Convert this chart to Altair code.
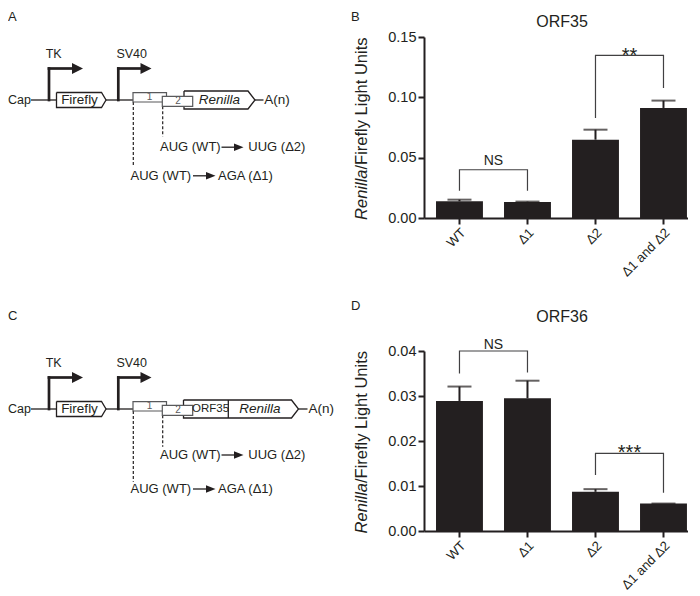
import altair as alt
import pandas as pd

BLACK = "#231f20"
GRAY = "#58595b"
FONT = "Liberation Sans"

# ---------------- bar chart data ----------------
cats = ["WT", "Δ1", "Δ2", "Δ1 and Δ2"]
orf35_mean = [0.0138, 0.0133, 0.0649, 0.0912]
orf35_err = [0.0014, 0.0003, 0.0083, 0.0061]
orf36_mean = [0.0289, 0.0295, 0.0087, 0.0061]
orf36_err = [0.0032, 0.0039, 0.0006, 0.0]
orf35_ticks = [0, 0.05, 0.10, 0.15]
orf36_ticks = [0, 0.01, 0.02, 0.03, 0.04]

# significance brackets (value units)
orf35_br_left = ["WT", "Δ2"]
orf35_br_right = ["Δ1", "Δ1 and Δ2"]
orf35_br_top = [0.040, 0.1347]
orf35_br_leg_left = [0.0225, 0.0829]
orf35_br_leg_right = [0.0225, 0.1077]
orf35_br_label = ["NS", "**"]
orf35_br_label_at = [0.0442, 0.1290]

orf36_br_left = ["WT", "Δ2"]
orf36_br_right = ["Δ1", "Δ1 and Δ2"]
orf36_br_top = [0.040, 0.01727]
orf36_br_leg_left = [0.0350, 0.01244]
orf36_br_leg_right = [0.0352, 0.0085]
orf36_br_label = ["NS", "***"]
orf36_br_label_at = [0.0404, 0.01610]

# ---------------- construct diagram data (A and C) ----------------
# x: horizontal figure units, y: units below the transcript line
line_x1 = {"A": [31, 106, 255], "C": [31, 106, 298.5]}
line_x2 = {"A": [56.5, 133, 263.5], "C": [56.5, 133, 307.5]}
firefly_x = [56.5, 101.5, 106, 101.5, 56.5, 56.5]
firefly_y = [-7.5, -7.5, 0, 7.5, 7.5, -7.5]
renilla_x = {"A": [184, 248, 255, 248, 184, 184],
             "C": [183.5, 291.5, 298.5, 291.5, 183.5, 183.5]}
renilla_y = [-9, -9, 0, 9, 9, -9]
orf35_divider_x = 228.3
box_x1 = [133, 162.3]
box_x2 = [166.5, 192.7]
box_y1 = [-7.3, -3.7]
box_y2 = [2.0, 6.3]
prom_x = [49, 118.3]
prom_top = -31.5
prom_head_base = [72, 140.5]
prom_head_tip = [83, 151.5]
prom_head_half = 5.5
dash_x = [133.3, 162.7]
dash_y1 = [2.0, 6.3]
dash_y2 = {"A": [67, 36.5], "C": [72.7, 37.7]}
row_y = {"A": [47.2, 75.8], "C": [46.0, 80.0]}
row_text_left = [["AUG (WT)", "UUG (Δ2)"], ["AUG (WT)", "AGA (Δ1)"]]
row_text_x = [[160, 248.3], [130.5, 218]]
row_shaft_x1 = [221.5, 193]
row_head_base = [234, 206]
row_head_tip = [243.5, 215.5]
row_head_half = 3.7
renilla_text_x = {"A": 219.5, "C": 260}
an_text_x = {"A": 264.3, "C": 308.5}
ydomain = {"A": [-63, 118], "C": [-58, 122]}
vheight = {"A": 181, "C": 180}
DIAG_W = 330


def top_anchor():
    # invisible mark that fixes the top edge of the whole figure
    return alt.Chart(pd.DataFrame({"k": [0]})).mark_rule(strokeOpacity=0, strokeWidth=1).encode(
        x=alt.value(0), x2=alt.value(4), y=alt.value(-29))


def diagram(p, letter):
    xs = alt.Scale(domain=[8, 8 + DIAG_W])
    ys = alt.Scale(domain=ydomain[p], reverse=True)

    def X(f):
        return alt.X(f"{f}:Q", scale=xs, axis=None)

    def Y(f):
        return alt.Y(f"{f}:Q", scale=ys, axis=None, stack=False)

    layers = []
    seg = pd.DataFrame({"x1": line_x1[p], "x2": line_x2[p], "y": 0})
    layers.append(alt.Chart(seg).mark_rule(color=BLACK, strokeWidth=1.3)
                  .encode(x=X("x1"), x2="x2:Q", y=Y("y")))
    stems = pd.DataFrame({"x": prom_x, "y1": 0, "y2": prom_top})
    layers.append(alt.Chart(stems).mark_rule(color=BLACK, strokeWidth=2.7, strokeCap="square")
                  .encode(x=X("x"), y=Y("y1"), y2="y2:Q"))
    arms = pd.DataFrame({"x1": prom_x, "x2": [b + 1 for b in prom_head_base], "y": prom_top})
    layers.append(alt.Chart(arms).mark_rule(color=BLACK, strokeWidth=2.7, strokeCap="square")
                  .encode(x=X("x1"), x2="x2:Q", y=Y("y")))
    heads = []
    for i, (b, t) in enumerate(zip(prom_head_base, prom_head_tip)):
        heads.append({"id": f"p{i}", "x": b, "lo": prom_top - prom_head_half, "hi": prom_top + prom_head_half})
        heads.append({"id": f"p{i}", "x": t, "lo": prom_top, "hi": prom_top})
    for i, (b, t) in enumerate(zip(row_head_base, row_head_tip)):
        yy = row_y[p][i]
        heads.append({"id": f"r{i}", "x": b, "lo": yy - row_head_half, "hi": yy + row_head_half})
        heads.append({"id": f"r{i}", "x": t, "lo": yy, "hi": yy})
    layers.append(alt.Chart(pd.DataFrame(heads)).mark_area(color=BLACK, orient="vertical")
                  .encode(x=X("x"), y=Y("lo"), y2="hi:Q", detail="id:N"))
    shafts = pd.DataFrame({"x1": row_shaft_x1, "x2": [b + 1 for b in row_head_base], "y": row_y[p]})
    layers.append(alt.Chart(shafts).mark_rule(color=BLACK, strokeWidth=1.3)
                  .encode(x=X("x1"), x2="x2:Q", y=Y("y")))
    dashes = pd.DataFrame({"x": dash_x, "y1": dash_y1, "y2": dash_y2[p]})
    layers.append(alt.Chart(dashes).mark_rule(color=BLACK, strokeWidth=1.2, strokeDash=[3, 2])
                  .encode(x=X("x"), y=Y("y1"), y2="y2:Q"))
    shapes = []
    for i, (x, y) in enumerate(zip(firefly_x, firefly_y)):
        shapes.append({"s": "firefly", "o": i, "x": x, "y": y})
    for i, (x, y) in enumerate(zip(renilla_x[p], renilla_y)):
        shapes.append({"s": "renilla", "o": i, "x": x, "y": y})
    layers.append(alt.Chart(pd.DataFrame(shapes)).mark_line(color=BLACK, strokeWidth=1.3, strokeJoin="miter")
                  .encode(x=X("x"), y=Y("y"), detail="s:N", order="o:Q"))
    if p == "C":
        div = pd.DataFrame({"x": [orf35_divider_x], "y1": [renilla_y[0]], "y2": [renilla_y[3]]})
        layers.append(alt.Chart(div).mark_rule(color=BLACK, strokeWidth=1.3)
                      .encode(x=X("x"), y=Y("y1"), y2="y2:Q"))
    boxes = pd.DataFrame({"x1": box_x1, "x2": box_x2, "y1": box_y1, "y2": box_y2})
    layers.append(alt.Chart(boxes).mark_rect(fill="white", stroke=GRAY, strokeWidth=1.2)
                  .encode(x=X("x1"), x2="x2:Q", y=Y("y1"), y2="y2:Q"))

    def txt(df, **kw):
        return alt.Chart(pd.DataFrame(df)).mark_text(**kw).encode(x=X("x"), y=Y("y"), text="t:N")

    layers.append(txt({"x": [8], "y": [0], "t": ["Cap"]}, align="left", baseline="middle", fontSize=12.5, color=BLACK))
    layers.append(txt({"x": [79.5], "y": [0], "t": ["Firefly"]}, align="center", baseline="middle", fontSize=13.5, color=BLACK))
    layers.append(txt({"x": [renilla_text_x[p]], "y": [0], "t": ["Renilla"]}, align="center", baseline="middle",
                      fontSize=13.5, fontStyle="italic", color=BLACK))
    layers.append(txt({"x": [an_text_x[p]], "y": [0], "t": ["A(n)"]}, align="left", baseline="middle", fontSize=13.5, color=BLACK))
    layers.append(txt({"x": [53.7, 131.7], "y": [-46, -46], "t": ["TK", "SV40"]}, align="center", baseline="middle",
                      fontSize=12.5, color=BLACK))
    layers.append(txt({"x": [149.5, 178], "y": [-2.6, 1.4], "t": ["1", "2"]}, align="center", baseline="middle",
                      fontSize=10, color=GRAY))
    if p == "C":
        layers.append(txt({"x": [210.5], "y": [0], "t": ["ORF35"]}, align="center", baseline="middle",
                          fontSize=11.5, color=BLACK))
    rows = {"x": [], "y": [], "t": []}
    for i in range(2):
        for t, x in zip(row_text_left[i], row_text_x[i]):
            rows["x"].append(x)
            rows["y"].append(row_y[p][i])
            rows["t"].append(t)
    layers.append(txt(rows, align="left", baseline="middle", fontSize=13, color=BLACK))
    letter_y = -16.5 if p == "A" else -31
    layers.append(alt.Chart(pd.DataFrame({"t": [letter]})).mark_text(align="left", baseline="alphabetic",
                                                                      fontSize=13, color=BLACK)
                  .encode(x=alt.value(0), y=alt.value(letter_y), text="t:N"))
    if p == "A":
        layers.append(top_anchor())
    return alt.layer(*layers).properties(width=DIAG_W, height=vheight[p])


# ---------------- bar panels ----------------
BAR_W = 264
xscale = alt.Scale(domain=cats, paddingInner=0.31, paddingOuter=0.096, align=0.92)
xaxis = alt.Axis(title=None, labelAngle=-45, labelFontSize=13.2, labelPadding=2)


def bar_panel(letter, title, mean, err, ticks, ymax, height, bl, br, btop, bll, blr, blab, bat,
              title_y, letter_y, anchor):
    yscale = alt.Scale(domain=[0, ymax], nice=False, zero=True)
    yaxis = alt.Axis(title=None, values=ticks, format=".2f", labelFontSize=14.5, labelPadding=2)

    def X(f):
        return alt.X(f"{f}:N", scale=xscale, axis=xaxis)

    def Y(f):
        return alt.Y(f"{f}:Q", scale=yscale, axis=yaxis)

    df = pd.DataFrame({"cat": cats, "mean": mean, "top": [m + e for m, e in zip(mean, err)]})
    bars = alt.Chart(df).mark_bar(color=BLACK).encode(x=X("cat"), y=Y("mean"))
    errs = alt.Chart(df).mark_rule(color=BLACK, strokeWidth=2).encode(x=X("cat"), y=Y("mean"), y2="top:Q")
    caps = alt.Chart(df).mark_tick(color=BLACK, thickness=2, size=24).encode(x=X("cat"), y=Y("top"))

    rows = []
    for i in range(len(bl)):
        rows += [{"b": i, "o": 0, "cat": bl[i], "v": bll[i]},
                 {"b": i, "o": 1, "cat": bl[i], "v": btop[i]},
                 {"b": i, "o": 2, "cat": br[i], "v": btop[i]},
                 {"b": i, "o": 3, "cat": br[i], "v": blr[i]}]
    brk = alt.Chart(pd.DataFrame(rows)).mark_line(color="#414042", strokeWidth=1.2).encode(
        x=X("cat"), y=Y("v"), detail="b:N", order="o:Q")
    labs = pd.DataFrame({"cat": bl, "at": bat, "label": blab})
    ns = alt.Chart(labs).transform_filter(alt.datum.label == "NS").mark_text(
        dx=34, baseline="alphabetic", fontSize=14, color=BLACK).encode(x=X("cat"), y=Y("at"), text="label:N")
    stars = alt.Chart(labs).transform_filter(alt.datum.label != "NS").mark_text(
        dx=34, baseline="alphabetic", fontSize=20, color=BLACK).encode(x=X("cat"), y=Y("at"), text="label:N")

    junction = height / 2 + 42
    yt1 = alt.Chart(pd.DataFrame({"t": ["Renilla"]})).mark_text(
        angle=270, align="right", baseline="middle", fontSize=16.5, fontStyle="italic", color=BLACK).encode(
        x=alt.value(-62), y=alt.value(junction), text="t:N")
    yt2 = alt.Chart(pd.DataFrame({"t": ["/Firefly Light Units"]})).mark_text(
        angle=270, align="left", baseline="middle", fontSize=16.5, color=BLACK).encode(
        x=alt.value(-62), y=alt.value(junction), text="t:N")
    ttl = alt.Chart(pd.DataFrame({"t": [title]})).mark_text(
        align="center", baseline="alphabetic", fontSize=16, color=BLACK).encode(
        x=alt.value(138), y=alt.value(title_y), text="t:N")
    let = alt.Chart(pd.DataFrame({"t": [letter]})).mark_text(
        align="left", baseline="alphabetic", fontSize=13, color=BLACK).encode(
        x=alt.value(-73), y=alt.value(letter_y), text="t:N")
    layers = [bars, errs, caps, brk, ns, stars, yt1, yt2, ttl, let]
    if anchor:
        layers.append(top_anchor())
    return alt.layer(*layers).properties(width=BAR_W, height=height)


panelA = diagram("A", "A")
panelC = diagram("C", "C")
panelB = bar_panel("B", "ORF35", orf35_mean, orf35_err, orf35_ticks, 0.15, 181,
                   orf35_br_left, orf35_br_right, orf35_br_top, orf35_br_leg_left, orf35_br_leg_right,
                   orf35_br_label, orf35_br_label_at, -9.7, -16.5, True)
panelD = bar_panel("D", "ORF36", orf36_mean, orf36_err, orf36_ticks, 0.04, 180,
                   orf36_br_left, orf36_br_right, orf36_br_top, orf36_br_leg_left, orf36_br_leg_right,
                   orf36_br_label, orf36_br_label_at, -28.7, -41, False)

chart = alt.concat(panelA, panelB, panelC, panelD, columns=2,
                   spacing={"row": 133, "column": 86}, bounds="flush").properties(
    padding=0, background="white"
).configure(font=FONT).configure_view(stroke=None).configure_axis(
    domainColor=BLACK, domainWidth=2, tickColor=BLACK, tickWidth=2, tickSize=6,
    labelColor=BLACK, labelFont=FONT, grid=False
)

chart.save("out.html", embed_options={"renderer": "svg", "actions": False})
